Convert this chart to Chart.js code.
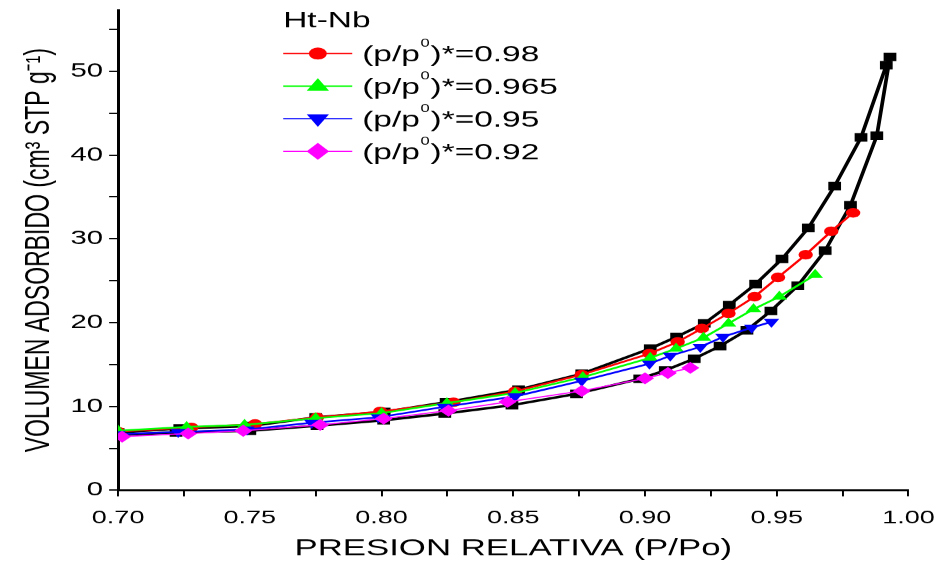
<!DOCTYPE html>
<html>
<head>
<meta charset="utf-8">
<script src="https://cdn.jsdelivr.net/npm/chart.js@4.4.0/dist/chart.umd.min.js"></script>
<style>
  html, body { margin: 0; padding: 0; background: #fff; overflow: hidden; }
  canvas { display: block; }
</style>
</head>
<body>
<!-- the original figure is stretched sideways, so the chart is drawn 625 wide and shown 938 wide -->
<canvas id="iso" width="625" height="566" style="width:938px;height:566px"></canvas>
<script>
// main Ht-Nb loop: adsorption branch then desorption branch
var adsX = [0.700, 0.722, 0.750, 0.7755, 0.8008, 0.824, 0.8495, 0.874, 0.898, 0.9077, 0.9187, 0.9285, 0.9387, 0.9478, 0.958, 0.9684, 0.978, 0.988, 0.993];
var adsY = [6.6, 6.9, 7.1, 7.7, 8.35, 9.15, 10.15, 11.5, 13.3, 14.3, 15.7, 17.2, 19.1, 21.4, 24.4, 28.6, 34.0, 42.3, 51.7];
var desX = [0.9916, 0.982, 0.972, 0.962, 0.952, 0.942, 0.932, 0.9225, 0.912, 0.902, 0.876, 0.852, 0.8245, 0.801, 0.775, 0.750, 0.7234, 0.700];
var desY = [50.7, 42.1, 36.3, 31.3, 27.6, 24.6, 22.1, 19.9, 18.3, 16.9, 13.9, 12.0, 10.5, 9.35, 8.7, 7.65, 7.37, 6.9];

// scanning curves, (p/p0)* = 0.98, 0.965, 0.95, 0.92
var s098X = [0.700, 0.7278, 0.752, 0.7755, 0.7995, 0.8273, 0.8507, 0.876, 0.9017, 0.9124, 0.9216, 0.9317, 0.9416, 0.9505, 0.961, 0.9707, 0.979];
var s098Y = [7.0, 7.5, 7.9, 8.7, 9.4, 10.5, 11.8, 13.8, 16.3, 17.7, 19.3, 21.1, 23.1, 25.4, 28.1, 30.9, 33.1];
var s0965X = [0.700, 0.726, 0.748, 0.775, 0.800, 0.8248, 0.8507, 0.8764, 0.902, 0.9118, 0.9222, 0.9317, 0.9412, 0.951, 0.9646];
var s0965Y = [7.1, 7.55, 7.8, 8.6, 9.2, 10.4, 11.6, 13.5, 15.8, 16.9, 18.2, 19.9, 21.6, 23.1, 25.7];
var s095X = [0.700, 0.7228, 0.749, 0.7735, 0.7988, 0.8238, 0.8507, 0.876, 0.9017, 0.9096, 0.921, 0.9296, 0.9405, 0.948];
var s095Y = [6.7, 6.95, 7.25, 8.05, 8.7, 9.95, 11.2, 13.05, 15.1, 16.05, 17.1, 18.3, 19.4, 20.1];
var s092X = [0.7015, 0.7266, 0.7475, 0.7767, 0.8008, 0.8254, 0.8478, 0.876, 0.900, 0.9087, 0.9172];
var s092Y = [6.4, 6.77, 7.1, 7.8, 8.55, 9.5, 10.55, 11.85, 13.35, 14.0, 14.6];

var legendTitle = 'Ht-Nb';
var legendValues = ['0.98', '0.965', '0.95', '0.92'];

function pts(xs, ys) {
  return xs.map(function (x, i) { return { x: x, y: ys[i] }; });
}

var FONT = '"Liberation Sans", Arial, sans-serif';
Chart.defaults.color = '#000';
Chart.defaults.font.family = FONT;

var series = [
  { key: 'loop', data: pts(adsX.concat(desX), adsY.concat(desY)), color: '#000000', style: 'rect', r: 6, rot: 0, lw: 2.5, order: 5 },
  { key: '0.98', data: pts(s098X, s098Y), color: '#ff0000', style: 'circle', r: 4.8, rot: 0, lw: 1.8, order: 4 },
  { key: '0.965', data: pts(s0965X, s0965Y), color: '#00ff00', style: 'triangle', r: 6, rot: 0, lw: 1.8, order: 3 },
  { key: '0.95', data: pts(s095X, s095Y), color: '#0000ff', style: 'triangle', r: 6, rot: 180, lw: 1.8, order: 2 },
  { key: '0.92', data: pts(s092X, s092Y), color: '#ff00ff', style: 'rectRot', r: 6, rot: 0, lw: 1.2, order: 1 }
];

function drawMarker(ctx, kind, x, y, color) {
  ctx.fillStyle = color;
  ctx.beginPath();
  if (kind === 'circle') {
    ctx.arc(x, y, 6, 0, Math.PI * 2);
  } else if (kind === 'up') {
    ctx.moveTo(x, y - 8);
    ctx.lineTo(x + 7.4, y + 4.5);
    ctx.lineTo(x - 7.4, y + 4.5);
  } else if (kind === 'down') {
    ctx.moveTo(x, y + 8);
    ctx.lineTo(x + 7.4, y - 4.5);
    ctx.lineTo(x - 7.4, y - 4.5);
  } else {
    ctx.moveTo(x, y - 8.5);
    ctx.lineTo(x + 7.5, y);
    ctx.lineTo(x, y + 8.5);
    ctx.lineTo(x - 7.5, y);
  }
  ctx.closePath();
  ctx.fill();
}

var legendPlugin = {
  id: 'htnbLegend',
  afterDraw: function (chart) {
    var ctx = chart.ctx;
    var kinds = ['circle', 'up', 'down', 'diamond'];
    ctx.save();
    ctx.fillStyle = '#000';
    ctx.textBaseline = 'alphabetic';
    ctx.textAlign = 'left';
    ctx.font = '22.3px ' + FONT;
    ctx.fillText(legendTitle, 188.7, 27);
    for (var i = 0; i < legendValues.length; i++) {
      var s = series[i + 1];
      var y = 53.5 + i * 32.6;
      ctx.strokeStyle = s.color;
      ctx.lineWidth = 1.3;
      ctx.beginPath();
      ctx.moveTo(188.7, y);
      ctx.lineTo(234.7, y);
      ctx.stroke();
      drawMarker(ctx, kinds[i], 211.8, y, s.color);

      var x = 241.3, base = y + 7.8;
      ctx.fillStyle = '#000';
      ctx.font = '22.3px ' + FONT;
      ctx.fillText('(p/p', x, base);
      x += ctx.measureText('(p/p').width + 0.5;
      ctx.font = '11px ' + FONT;
      ctx.fillText('0', x, y - 7);
      x += ctx.measureText('0').width + 0.5;
      ctx.font = '22.3px ' + FONT;
      ctx.fillText(')*=' + legendValues[i], x, base);
    }
    ctx.restore();
  }
};

new Chart(document.getElementById('iso'), {
  type: 'scatter',
  data: {
    datasets: series.map(function (s) {
      return {
        label: s.key,
        data: s.data,
        showLine: true,
        fill: false,
        tension: 0,
        borderColor: s.color,
        backgroundColor: s.color,
        borderWidth: s.lw,
        pointStyle: s.style,
        pointRotation: s.rot,
        pointRadius: s.r,
        pointBorderWidth: 0,
        pointBackgroundColor: s.color,
        order: s.order,
        clip: 0
      };
    })
  },
  options: {
    responsive: false,
    devicePixelRatio: 938 / 625,
    animation: false,
    events: [],
    layout: { padding: { left: 0, right: 19.7, top: 10, bottom: 0 } },
    plugins: { legend: { display: false }, tooltip: { enabled: false } },
    scales: {
      x: {
        type: 'linear',
        min: 0.70,
        max: 1.00,
        afterFit: function (s) { s.height = 76; s.paddingLeft = 0; s.paddingRight = 0; },
        border: { display: true, color: '#000', width: 2 },
        grid: { drawOnChartArea: false, drawTicks: true, tickLength: 6, color: '#000', lineWidth: 1.3 },
        ticks: {
          stepSize: 0.025,
          autoSkip: false,
          maxRotation: 0,
          includeBounds: false,
          padding: 11,
          font: { size: 18 },
          callback: function (v) {
            var k = Math.round(v * 1000);
            return (k % 50 === 0) ? (k / 1000).toFixed(2) : '';
          }
        },
        title: {
          display: true,
          text: 'PRESION RELATIVA (P/Po)',
          font: { size: 23.2 },
          padding: { top: 0, bottom: 3.4 }
        }
      },
      y: {
        type: 'linear',
        min: 0,
        max: 57.3,
        afterFit: function (s) { s.width = 78.7; s.paddingTop = 0; s.paddingBottom = 0; },
        border: { display: true, color: '#000', width: 2 },
        grid: { drawOnChartArea: false, drawTicks: true, tickLength: 6, color: '#000', lineWidth: 1.3 },
        ticks: {
          stepSize: 5,
          includeBounds: false,
          padding: 4,
          font: { size: 19.5 },
          callback: function (v) {
            return (Math.round(v) % 10 === 0) ? String(Math.round(v)) : '';
          }
        },
        title: {
          display: true,
          text: 'VOLUMEN ADSORBIDO (cm³ STP g⁻¹)',
          font: { size: 23 },
          padding: { top: 12.5, bottom: 0 }
        }
      }
    }
  },
  plugins: [legendPlugin]
});
</script>
</body>
</html>
